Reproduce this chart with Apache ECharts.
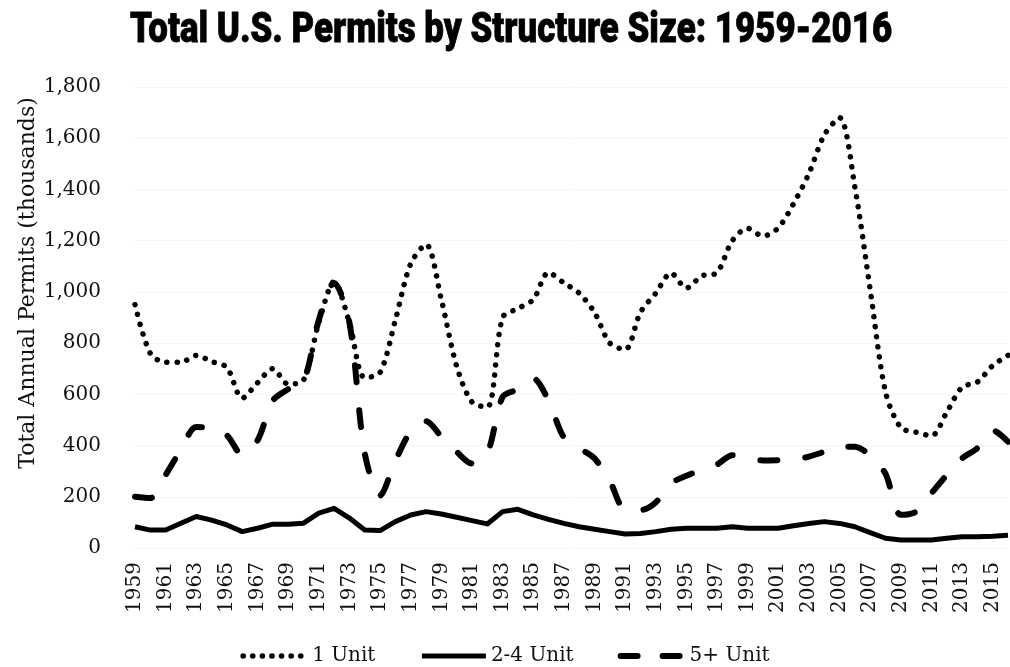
<!DOCTYPE html>
<html>
<head>
<meta charset="utf-8">
<script src="https://cdn.jsdelivr.net/npm/echarts@6/dist/echarts.min.js"></script>
<style>
  html, body { margin: 0; padding: 0; background: #fff; }
  #main { width: 1010px; height: 667px; }
</style>
</head>
<body>
<div id="main"></div>
<script>
// years 1959..2016
var years = [];
for (var y = 1959; y <= 2016; y++) years.push(String(y));

// thousands of permits
var oneUnit = [950, 760, 725, 725, 752, 728, 705, 585, 645, 700,
  640, 655, 880, 1040, 880, 665, 685, 890, 1110, 1185,
  970, 710, 570, 550, 900, 935, 970, 1075, 1035, 995,
  920, 800, 775, 920, 995, 1073, 1015, 1062, 1075, 1200,
  1248, 1218, 1250, 1345, 1462, 1612, 1680, 1410, 1010, 610,
  470, 452, 438, 530, 628, 648, 712, 752];
var twoFourUnit = [83, 70, 70, 97, 123, 109, 90, 64, 77, 93,
  93, 97, 136, 155, 117, 70, 68, 103, 129, 142,
  133, 120, 107, 94, 142, 151, 129, 112, 96, 83,
  73, 64, 55, 57, 64, 73, 77, 77, 77, 83,
  77, 77, 77, 87, 96, 103, 96, 83, 60, 38,
  31, 31, 31, 38, 44, 44, 46, 50];
var fivePlusUnit = [200, 195, 285, 385, 472, 470, 440, 365, 420, 575,
  620, 650, 890, 1035, 880, 370, 205, 340, 455, 495,
  435, 376, 330, 370, 590, 620, 662, 575, 432, 390,
  350, 262, 150, 148, 178, 252, 282, 305, 326, 362,
  350, 342, 343, 345, 357, 376, 396, 395, 362, 290,
  130, 142, 214, 285, 350, 390, 460, 415];

var serif = 'DejaVu Serif';
var dotStyle = { color: '#000', width: 5.5, type: [0.1, 10], cap: 'round' };
var solidStyle = { color: '#000', width: 5, join: 'round' };
var dashStyle = { color: '#000', width: 6, type: [17, 28], cap: 'round' };

var chart = echarts.init(document.getElementById('main'));
chart.setOption({
  animation: false,
  backgroundColor: '#fff',
  legend: {
    bottom: -4,
    left: 'center',
    padding: [5, 5, 5, 20],
    itemWidth: 64,
    itemHeight: 8,
    itemGap: 44,
    itemStyle: { opacity: 0 },
    textStyle: { fontFamily: serif, fontSize: 20, color: '#111' },
    data: [
      { name: '1 Unit', lineStyle: { width: 5.5, type: [0.1, 9.5], cap: 'round' } },
      { name: '2-4 Unit', lineStyle: { width: 5 } },
      { name: '5+ Unit', lineStyle: { width: 6, type: [17, 25], cap: 'round' } }
    ]
  },
  grid: { left: 135, right: 2, top: 87, bottom: 119 },
  xAxis: {
    type: 'category',
    data: years,
    boundaryGap: false,
    axisLine: { show: false },
    axisTick: { show: false },
    axisLabel: {
      interval: 1,
      rotate: 90,
      margin: 14,
      fontFamily: serif,
      fontSize: 20,
      color: '#111'
    }
  },
  yAxis: {
    type: 'value',
    min: 0,
    max: 1800,
    interval: 200,
    axisLine: { show: false },
    axisTick: { show: false },
    splitLine: { lineStyle: { color: '#f6f6f6' } },
    axisLabel: {
      margin: 34,
      fontFamily: serif,
      fontSize: 20,
      color: '#111',
      formatter: function (v) { return v.toLocaleString('en-US'); }
    }
  },
  graphic: [
    {
      // heavy condensed title: Roboto Black squeezed horizontally
      type: 'text',
      x: 511,
      y: 31,
      scaleX: 0.83,
      style: {
        text: 'Total U.S. Permits by Structure Size: 1959-2016',
        font: '900 42px Roboto',
        fill: '#000',
        stroke: '#000',
        lineWidth: 0.8,
        textAlign: 'center',
        textVerticalAlign: 'middle'
      }
    },
    {
      type: 'text',
      x: 28,
      y: 283,
      rotation: Math.PI / 2,
      style: {
        text: 'Total Annual Permits (thousands)',
        font: '22px "DejaVu Serif"',
        fill: '#111',
        textAlign: 'center',
        textVerticalAlign: 'middle'
      }
    }
  ],
  series: [
    {
      name: '1 Unit',
      type: 'line',
      data: oneUnit,
      symbol: 'none',
      smooth: 0.3,
      color: '#000',
      lineStyle: dotStyle
    },
    {
      name: '2-4 Unit',
      type: 'line',
      data: twoFourUnit,
      symbol: 'none',
      color: '#000',
      lineStyle: solidStyle
    },
    {
      name: '5+ Unit',
      type: 'line',
      data: fivePlusUnit,
      symbol: 'none',
      smooth: 0.3,
      color: '#000',
      lineStyle: dashStyle
    }
  ]
});
</script>
</body>
</html>
